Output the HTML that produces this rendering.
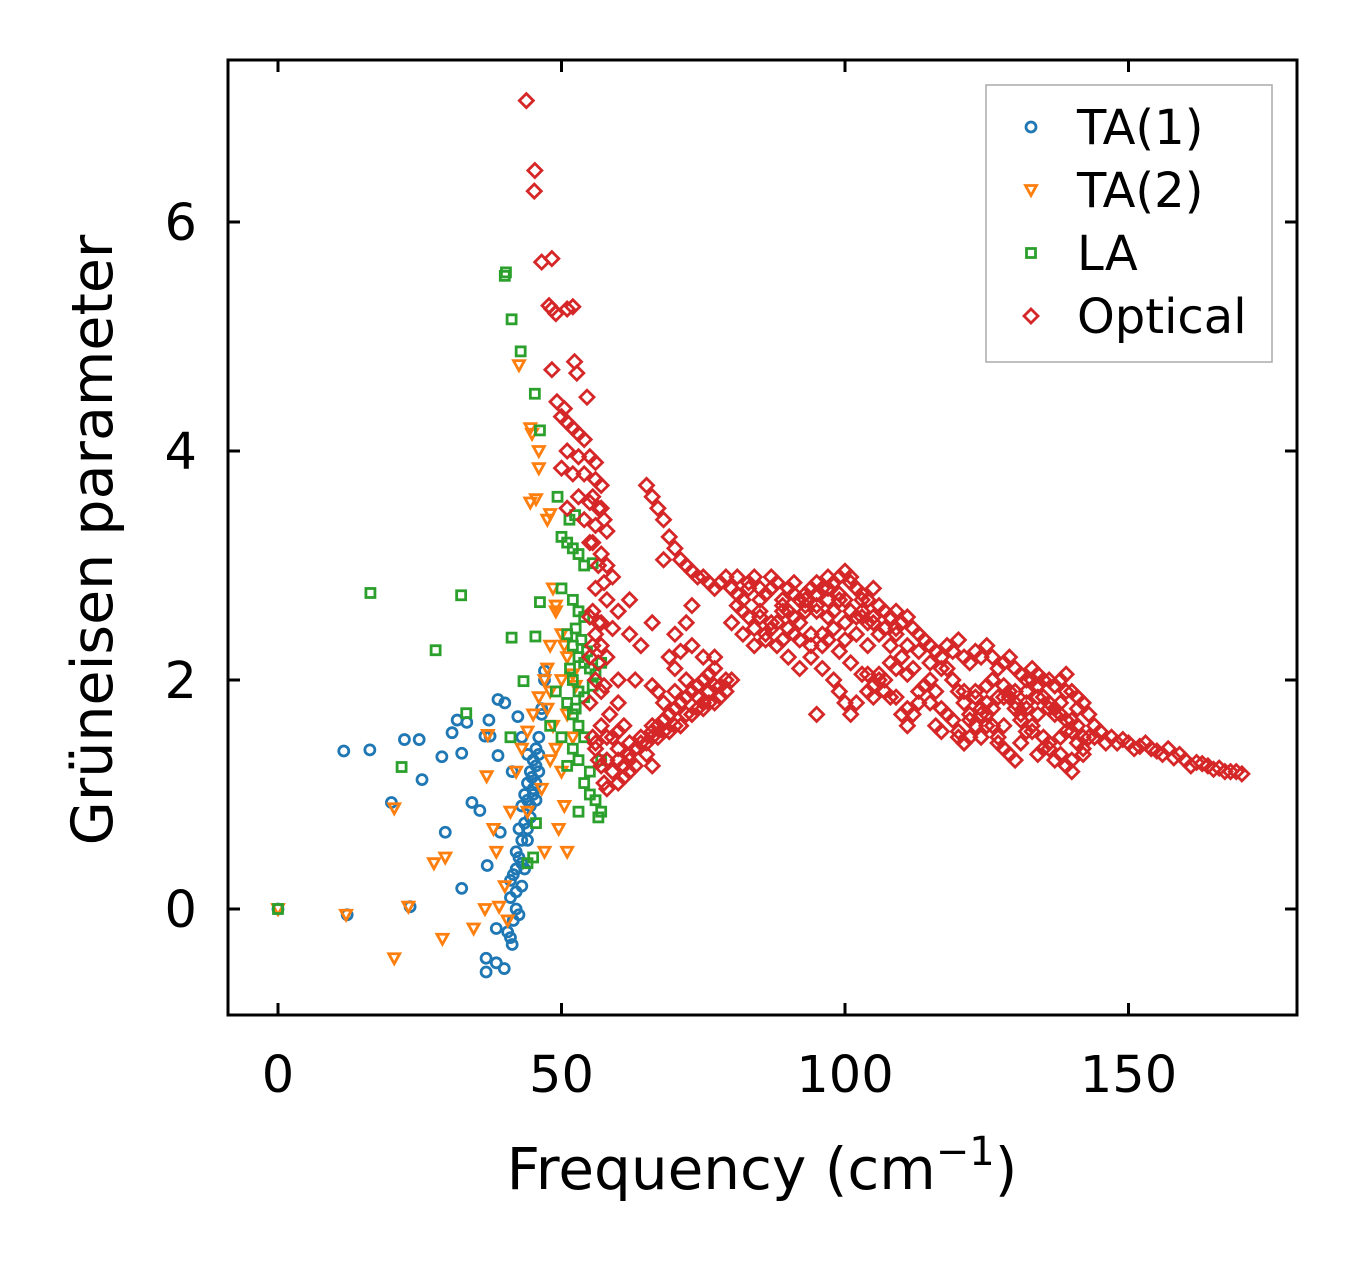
<!DOCTYPE html>
<html><head><meta charset="utf-8"><style>
body{margin:0;background:#fff;}
svg text{font-family:"DejaVu Sans","Liberation Sans",sans-serif;fill:#000;}
</style></head><body>
<svg id="chart" width="1357" height="1264" xmlns="http://www.w3.org/2000/svg">
<rect width="1357" height="1264" fill="#fff"/>
<g id="marks"></g>
<g id="axes"></g>
<rect x="228" y="60" width="1069" height="955" fill="none" stroke="#000" stroke-width="3"/>
<text transform="translate(112,540) rotate(-90)" text-anchor="middle" font-size="57">Grüneisen parameter</text>
<text x="762" y="1189" text-anchor="middle" font-size="58">Frequency (cm<tspan dy="-24" font-size="40">−1</tspan><tspan dy="24">)</tspan></text>
<g>
<rect x="986" y="85" width="286" height="277" fill="#fff" stroke="#aaa" stroke-width="1.5"/>
<g id="legend-items"></g>
</g>
</svg>
<script>
const ta1X=[0,12.2,23.3,11.6,16.2,20,22.3,24.9,25.4,29.5,28.9,30.7,31.6,32.4,33.3,32.4,34.2,35.6,36.9,36.5,37.4,37.2,36.7,36.7,38.5,39.9,38.5,38.8,40,38.8,39.2,41.3,42.3,41.3,41,41.5,42,42.5,43,43.5,44,44.5,45,45.5,46,46.5,47,47,42,42.5,41.5,43,43.5,44,44.5,45,45.5,46,43,44,41,42,43,44,46.5,45.5,40.5,41,42.5,43.5,44.5,45,44,43,42,45.5,46,44.8];
const ta1Y=[0,-0.05,0.02,1.38,1.39,0.93,1.48,1.48,1.13,0.67,1.33,1.54,1.65,1.36,1.63,0.18,0.93,0.86,0.38,1.51,1.51,1.65,-0.43,-0.55,-0.47,-0.52,-0.17,1.83,1.8,1.34,0.67,1.2,1.68,-0.31,0.1,0.3,0.5,0.7,0.9,1.0,1.1,1.2,1.3,1.4,1.5,1.7,2.0,2.08,0.0,-0.05,-0.1,0.2,0.35,0.6,0.8,1.0,1.1,1.2,1.5,1.35,0.25,0.35,0.6,0.95,1.75,0.95,-0.2,-0.25,0.45,0.75,0.9,1.05,0.7,0.4,0.15,1.25,1.35,1.15];
const ta2X=[0,12,20.5,20.5,23,29,27.5,29.5,34.5,36.5,36.8,37,38,38.5,39,40,40.5,41,42,43,44,45,46,47,47.5,48,48.5,49,50,50.5,49.5,51,48,46.5,44,47,42.5,44.5,44.8,46,46,45.5,44.5,47.5,48,48.5,49,49,50,50.5,51,52,52.5,50,51,48,47.5,52];
const ta2Y=[0,-0.05,-0.43,0.88,0.02,-0.26,0.4,0.45,-0.17,0.0,1.16,1.52,0.7,0.5,0.02,0.2,-0.1,0.85,1.2,1.4,1.55,1.7,1.85,2.0,2.1,1.9,1.6,1.4,1.2,0.9,0.7,0.5,1.3,1.05,0.85,0.5,4.75,4.2,4.15,4.0,3.85,3.58,3.55,3.4,3.45,2.8,2.65,2.6,2.4,2.3,2.2,2.05,1.95,2.0,1.7,2.3,1.75,1.5];
const laX=[0,16.3,21.8,27.8,32.3,33.2,40.2,40,41.2,42.8,45.3,46.2,49.3,51.4,52.4,50,51,52,53,54,55.5,50,52,46.2,53,54,51,41.2,45.4,43.3,52,53,54,55,56,57,52,53,54,51,52,53,54,52,53,51,54,55,56,57,56.5,57,44,45,45.5,41,50,49,48,55,53,52.5,53.5,54.5,55.5,51.5,52.5];
const laY=[0,2.76,1.24,2.26,2.74,1.71,5.56,5.53,5.15,4.87,4.5,4.18,3.6,3.4,3.44,3.25,3.2,3.15,3.1,3.0,3.02,2.8,2.7,2.68,2.6,2.55,2.4,2.37,2.38,1.99,2.3,2.2,2.15,2.1,2.05,2.15,2.0,1.9,1.85,1.8,1.7,1.6,1.5,1.4,1.3,1.25,1.1,1.0,0.95,0.85,0.8,1.3,0.4,0.45,0.75,1.5,1.5,1.9,1.6,1.2,0.85,2.45,2.35,2.25,1.95,2.1,1.75];
const optX=[43.8,45.3,45.2,46.5,48.3,47.8,48.3,49,51,52,52.3,52.7,48.3,49.2,50.5,54.5,50,51,52,53,54,51,53,55,56,50,52,54,56,57,53,55,57,51,54,56,58,55,57,58,59,56,58,60,62,57,59,55,56,57,58,55,56,57,55,57,56,58,59,60,61,62,63,64,65,66,67,68,69,70,71,72,73,74,75,76,77,78,79,80,62,60,59,61,63,66,65,67,69,71,73,75,77,76,74,72,70,69,71,73,75,77,70,72,73,66,64,62,60,63,66,68,70,
65,66,67,68,69,70,71,68,72,73,74,75,76,77,78,79,80,81,82,83,84,85,86,87,88,89,90,91,92,93,94,95,96,97,98,99,100,101,102,103,104,105,106,107,108,109,110,111,112,113,114,115,116,117,118,119,120,121,122,123,124,125,126,127,128,129,130,131,132,133,134,135,136,137,138,139,140,141,142,143,144,145,
80,82,84,86,88,90,92,94,96,98,100,102,104,106,108,110,90,92,94,96,98,99,100,101,102,104,106,108,110,111,112,113,114,115,116,117,118,119,120,121,122,123,124,125,126,127,128,129,130,131,132,133,134,135,136,137,138,139,140,141,142,125,128,130,132,134,136,138,140,139,137,95,93,97,85,87,89,91,80,82,100,103,105,107,109,111,113,115,117,119,121,123,
144,146,148,150,152,154,155,156,158,160,162,164,166,168,170,147,149,151,153,157,159,161,163,165,167,169,
55.5,56.5,57.5,55.5,56.5,57.5,55.5,56.5,55.5,56.5,57.5,58.5,55.5,56.5,57.5,56,57,58,59,60,61,58,60,62,
81,83,85,87,89,91,93,95,97,99,101,103,105,107,109,81,83,85,87,89,91,93,95,97,99,101,103,84,86,88,90,92,94,96,98,100,102,104,
118,119,120,121,122,123,124,125,126,127,128,129,130,131,132,133,134,135,136,137,138,139,140,141,142,143,120,122,124,126,128,130,132,134,136,138,140,142,121,123,125,127,129,131,133,135,137,139,141,
66,68,70,72,74,76,78,67,69,71,73,75,77,79,60,62,64,66,68,70,72,74,76,78,
104,106,108,110,112,114,116,105,107,109,111,113,115,117,95,97,99,101,103,105,107,109,111];
const optY=[7.06,6.45,6.27,5.65,5.68,5.27,5.24,5.2,5.24,5.26,4.78,4.68,4.71,4.43,4.37,4.47,4.3,4.25,4.2,4.15,4.1,4.0,3.95,3.95,3.9,3.85,3.8,3.8,3.75,3.7,3.6,3.55,3.5,3.5,3.4,3.35,3.3,3.2,3.1,3.0,2.9,2.8,2.7,2.6,2.7,2.5,2.45,2.55,2.4,2.3,2.2,2.2,2.0,1.9,1.8,1.6,1.4,1.3,1.2,1.1,1.15,1.3,1.4,1.5,1.45,1.55,1.6,1.65,1.7,1.75,1.8,1.85,1.9,1.95,2.0,2.05,2.1,1.95,2.0,2.0,1.2,1.4,1.5,1.6,1.25,1.25,1.35,1.5,1.55,1.6,1.7,1.75,1.8,1.9,1.85,2.0,2.1,2.2,2.25,2.3,2.2,2.2,2.4,2.5,2.65,2.5,2.3,2.4,2.0,2.0,1.95,1.8,1.9,
3.7,3.6,3.5,3.4,3.25,3.15,3.05,3.05,3.0,2.95,2.9,2.9,2.85,2.8,2.85,2.9,2.8,2.75,2.7,2.85,2.9,2.8,2.75,2.9,2.85,2.7,2.8,2.85,2.7,2.75,2.8,2.85,2.8,2.9,2.85,2.9,2.95,2.9,2.8,2.75,2.7,2.8,2.65,2.6,2.55,2.6,2.5,2.55,2.45,2.4,2.35,2.3,2.25,2.2,2.3,2.25,2.35,2.2,2.15,2.25,2.2,2.3,2.2,2.1,2.15,2.2,2.1,2.05,2.0,2.1,2.05,2.0,2.0,1.95,2.0,2.05,1.9,1.85,1.8,1.7,1.6,1.55,
2.5,2.4,2.3,2.4,2.5,2.6,2.5,2.4,2.3,2.6,2.5,2.4,2.3,2.4,2.3,2.2,2.2,2.1,2.2,2.1,2.0,1.9,1.8,1.7,1.8,1.9,2.0,1.85,1.7,1.6,1.7,1.8,1.95,2.0,1.6,1.55,1.7,1.65,1.5,1.45,1.5,1.6,1.7,1.8,1.6,1.5,1.4,1.35,1.3,1.45,1.55,1.6,1.7,1.5,1.4,1.3,1.5,1.25,1.2,1.6,1.4,1.95,1.85,1.75,1.8,1.85,1.75,1.8,1.65,1.55,1.7,2.6,2.6,2.7,2.55,2.45,2.35,2.4,2.8,2.6,2.7,2.6,2.55,2.45,2.4,2.3,2.25,2.15,2.1,2.0,1.9,1.85,
1.5,1.45,1.45,1.45,1.42,1.4,1.38,1.35,1.32,1.3,1.28,1.25,1.23,1.2,1.18,1.5,1.48,1.4,1.45,1.4,1.35,1.25,1.27,1.22,1.2,1.2,
3.6,3.5,3.4,3.2,3.0,2.85,2.6,2.5,2.3,2.15,1.95,1.7,1.5,1.3,1.1,1.45,1.25,1.05,1.2,1.3,1.25,1.5,1.55,1.45,
2.65,2.55,2.6,2.5,2.65,2.55,2.7,2.65,2.55,2.7,2.6,2.55,2.5,2.45,2.45,2.9,2.8,2.7,2.8,2.6,2.75,2.65,2.75,2.8,2.75,2.85,2.7,2.45,2.35,2.3,2.45,2.35,2.3,2.4,2.45,2.35,2.55,2.5,
2.1,2.0,1.9,1.8,1.7,1.6,1.5,1.6,1.75,1.85,1.95,1.9,1.8,1.7,1.9,2.0,1.95,1.85,1.8,1.75,1.7,1.65,1.55,1.45,1.35,1.5,1.55,1.65,1.75,2.0,1.6,1.9,1.75,1.35,1.45,1.35,1.3,1.5,1.45,1.9,1.7,1.45,1.85,1.65,1.55,1.4,1.95,1.9,1.75,1.6,
1.65,1.75,1.85,1.95,2.05,1.85,1.9,1.55,1.6,1.7,1.8,1.95,1.9,1.8,1.35,1.45,1.5,1.55,1.6,1.7,1.75,1.8,1.95,2.05,
2.05,2.15,2.2,2.1,1.95,1.9,1.85,2.0,2.1,2.05,1.9,1.8,1.75,1.7,2.35,2.25,2.15,2.05,1.95,1.9,1.85,1.75,1.65];
const xTicks=[0,50,100,150];
const yTicks=[0,2,4,6];
const legendLabels=["TA(1)","TA(2)","LA","Optical"];

const NS="http://www.w3.org/2000/svg";
const X=v=>278+v*5.67;
const Y=v=>909-v*114.5;
function mk(tag,a){const e=document.createElementNS(NS,tag);for(const k in a)e.setAttribute(k,a[k]);return e;}
function marker(kind,cx,cy,color){
  let e;
  if(kind==="circle")e=mk("circle",{cx:cx,cy:cy,r:5});
  else if(kind==="tri")e=mk("polygon",{points:`${cx-5.5},${cy-4.5} ${cx+5.5},${cy-4.5} ${cx},${cy+5.5}`});
  else if(kind==="sq")e=mk("rect",{x:cx-4.5,y:cy-4.5,width:9,height:9});
  else e=mk("polygon",{points:`${cx},${cy-7} ${cx+7},${cy} ${cx},${cy+7} ${cx-7},${cy}`});
  e.setAttribute("fill","none");e.setAttribute("stroke",color);e.setAttribute("stroke-width","2.8");
  return e;
}
const marks=document.getElementById("marks");
const series=[[ta1X,ta1Y,"circle","#1f77b4","ta1-point"],[ta2X,ta2Y,"tri","#ff7f0e","ta2-point"],[laX,laY,"sq","#2ca02c","la-point"],[optX,optY,"dia","#d62728","optical-point"]];
series.forEach(s=>{
  const n=Math.min(s[0].length,s[1].length);
  for(let i=0;i<n;i++){
    const m=marker(s[2],X(s[0][i]),Y(s[1][i]),s[3]);
    
    
    marks.appendChild(m);
  }
});
const axes=document.getElementById("axes");
xTicks.forEach(t=>{
  const x=X(t);
  const a=mk("line",{x1:x,y1:1015,x2:x,y2:1003,stroke:"#000","stroke-width":3});
  
  
  axes.appendChild(a);
  const b=mk("line",{x1:x,y1:60,x2:x,y2:72,stroke:"#000","stroke-width":3});
  
  
  axes.appendChild(b);
  const l=mk("text",{x:x,y:1092,"text-anchor":"middle","font-size":"51"});
  l.textContent=t;
  
  
  axes.appendChild(l);
});
yTicks.forEach(t=>{
  const y=Y(t);
  const a=mk("line",{x1:228,y1:y,x2:240,y2:y,stroke:"#000","stroke-width":3});
  
  
  axes.appendChild(a);
  const b=mk("line",{x1:1285,y1:y,x2:1297,y2:y,stroke:"#000","stroke-width":3});
  
  
  axes.appendChild(b);
  const l=mk("text",{x:197,y:y+18,"text-anchor":"end","font-size":"51"});
  l.textContent=t;
  
  
  axes.appendChild(l);
});
const li=document.getElementById("legend-items");
legendLabels.forEach((lab,i)=>{
  const y=127+i*63;
  const m=marker(series[i][2],1031,y,series[i][3]);
  
  
  li.appendChild(m);
  const t=mk("text",{x:1077,y:y+17,"font-size":"48"});
  t.textContent=lab;
  
  
  li.appendChild(t);
});
</script>
</body></html>
